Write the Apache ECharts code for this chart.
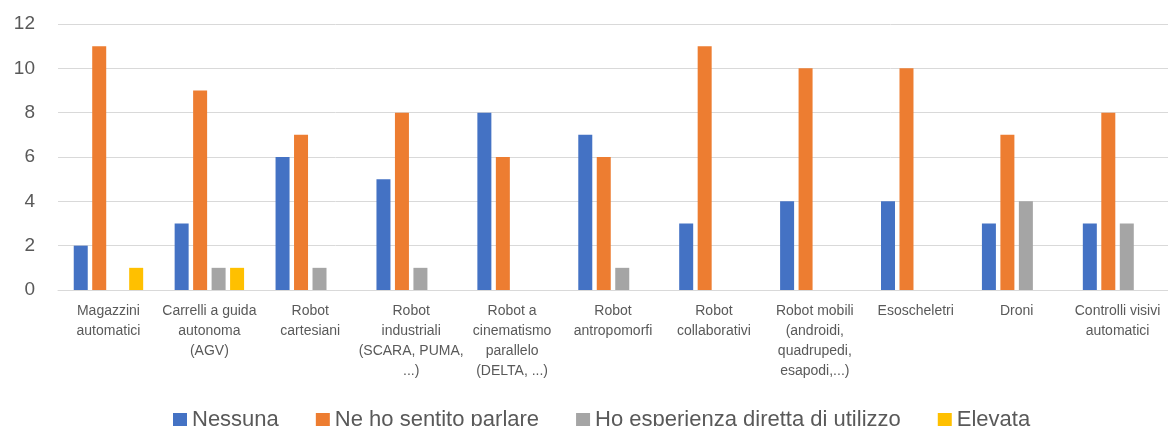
<!DOCTYPE html>
<html>
<head>
<meta charset="utf-8">
<script src="https://cdn.jsdelivr.net/npm/echarts@6/dist/echarts.min.js"></script>
<style>
  html, body { margin: 0; padding: 0; background: #fff; }
  #chart { width: 1168px; height: 426px; }
</style>
</head>
<body>
<div id="chart"></div>
<script>
// categorie (a capo come nell'originale)
const categories = [
  'Magazzini\nautomatici',
  'Carrelli a guida\nautonoma\n(AGV)',
  'Robot\ncartesiani',
  'Robot\nindustriali\n(SCARA, PUMA,\n...)',
  'Robot a\ncinematismo\nparallelo\n(DELTA, ...)',
  'Robot\nantropomorfi',
  'Robot\ncollaborativi',
  'Robot mobili\n(androidi,\nquadrupedi,\nesapodi,...)',
  'Esoscheletri',
  'Droni',
  'Controlli visivi\nautomatici'
]
const nessuna = [2, 3, 6, 5, 8, 7, 3, 4, 4, 3, 3]
const sentitoParlare = [11, 9, 7, 8, 6, 6, 11, 10, 10, 7, 8]
const esperienzaDiretta = [0, 1, 1, 1, 0, 1, 0, 0, 0, 4, 3]
const elevata = [1, 1, 0, 0, 0, 0, 0, 0, 0, 0, 0]
const seriesNames = ['Nessuna', 'Ne ho sentito parlare', 'Ho esperienza diretta di utilizzo', 'Elevata']
const colors = ['#4472C4', '#ED7D31', '#A5A5A5', '#FFC000']

const chart = echarts.init(document.getElementById('chart'))

let seriesData = [nessuna, sentitoParlare, esperienzaDiretta, elevata].map((vals, i) => ({
  name: seriesNames[i],
  type: 'bar',
  data: vals,
  barWidth: 14,
  barGap: '32%',
  itemStyle: { color: colors[i] }
}))

const option = {
  animation: false,
  textStyle: { fontFamily: 'Liberation Sans' },
  legend: {
    left: 173,
    top: 409,
    padding: 0,
    itemWidth: 14,
    itemHeight: 14,
    itemGap: 37,
    icon: 'rect',
    textStyle: { fontSize: 22, color: '#595959' },
    data: seriesNames
  },
  grid: {
    left: 58,
    top: 24,
    width: 1115,
    height: 266,
    containLabel: false
  },
  xAxis: {
    type: 'category',
    data: categories,
    axisLine: { lineStyle: { color: '#D9D9D9', width: 1 } },
    axisTick: { show: false },
    axisLabel: {
      interval: 0,
      margin: 11,
      fontSize: 14,
      lineHeight: 20,
      color: '#595959',
      align: 'center'
    }
  },
  yAxis: {
    type: 'value',
    min: 0,
    max: 12,
    interval: 2,
    axisLine: { show: false },
    axisTick: { show: false },
    axisLabel: { fontSize: 19, color: '#595959', margin: 23 },
    splitLine: { lineStyle: { color: '#D9D9D9', width: 1 } }
  },
  series: seriesData
}

chart.setOption(option)
</script>
</body>
</html>
